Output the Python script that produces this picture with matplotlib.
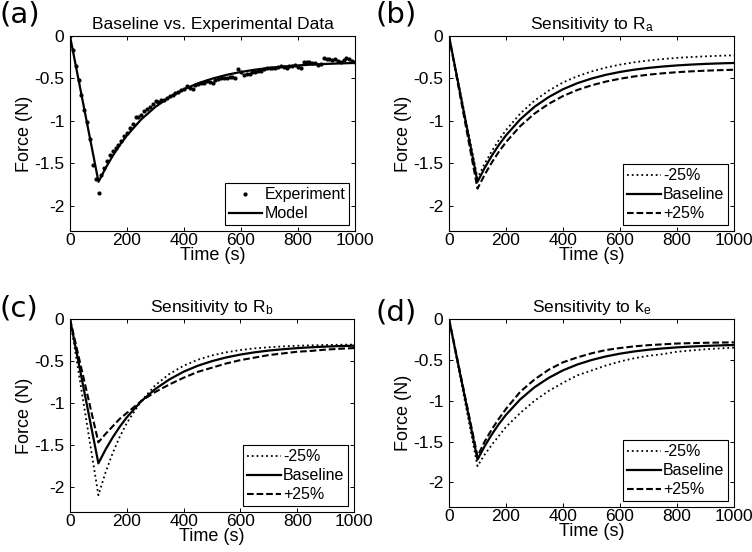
import matplotlib

matplotlib.use("Agg")

import matplotlib.pyplot as plt

plt.rcParams["font.family"] = ["Liberation Sans", "DejaVu Sans"]
plt.rcParams["mathtext.fontset"] = "custom"
plt.rcParams["mathtext.rm"] = "Liberation Sans"
plt.rcParams["mathtext.it"] = "Liberation Sans"
plt.rcParams["mathtext.default"] = "regular"

# model curves (time in s, force in N)
model_time = [0, 100, 125, 150, 175, 200, 250, 300, 350, 400, 450, 500,
              550, 600, 650, 700, 750, 800, 850, 900, 950, 1000]
baseline = [0, -1.72, -1.557, -1.413, -1.285, -1.172, -0.983, -0.835, -0.72, -0.628, -0.557, -0.502,
            -0.458, -0.424, -0.397, -0.376, -0.36, -0.347, -0.337, -0.329, -0.323, -0.318]

ra_minus = [0, -1.675, -1.507, -1.359, -1.227, -1.11, -0.915, -0.762, -0.644, -0.548, -0.475, -0.418,
            -0.373, -0.338, -0.31, -0.289, -0.272, -0.258, -0.248, -0.24, -0.233, -0.228]
ra_plus = [0, -1.80, -1.637, -1.493, -1.365, -1.252, -1.063, -0.915, -0.80, -0.708, -0.637, -0.582,
           -0.538, -0.504, -0.477, -0.456, -0.44, -0.427, -0.417, -0.409, -0.403, -0.398]

rb_minus = [0, -2.10, -1.83, -1.60, -1.405, -1.24, -0.98, -0.79, -0.655, -0.557, -0.485, -0.434,
            -0.397, -0.37, -0.35, -0.337, -0.326, -0.319, -0.314, -0.31, -0.307, -0.305]
rb_plus = [0, -1.47, -1.37, -1.28, -1.19, -1.12, -0.98, -0.87, -0.78, -0.70, -0.63, -0.58,
           -0.53, -0.49, -0.46, -0.43, -0.41, -0.39, -0.38, -0.365, -0.355, -0.346]

ke_minus = [0, -1.80, -1.66, -1.54, -1.43, -1.32, -1.15, -1.00, -0.88, -0.78, -0.69, -0.63,
            -0.57, -0.52, -0.48, -0.45, -0.43, -0.40, -0.385, -0.37, -0.36, -0.35]
ke_plus = [0, -1.68, -1.50, -1.35, -1.22, -1.10, -0.89, -0.74, -0.62, -0.53, -0.47, -0.42,
           -0.38, -0.355, -0.335, -0.32, -0.31, -0.30, -0.295, -0.291, -0.288, -0.286]

# experimental points, panel (a)
exp_time = [0, 10, 20, 30, 40, 50, 60, 70, 80, 90, 100, 110, 120, 130, 140, 150, 160, 170, 180, 190,
            200, 210, 220, 230, 240, 250, 260, 270, 280, 290, 300, 310, 320, 330, 340, 350, 360, 370,
            380, 390, 400, 410, 420, 430, 440, 450, 460, 470, 480, 490, 500, 510, 520, 530, 540, 550,
            560, 570, 580, 590, 600, 610, 620, 630, 640, 650, 660, 670, 680, 690, 700, 710, 720, 730,
            740, 750, 760, 770, 780, 790, 800, 810, 820, 830, 840, 850, 860, 870, 880, 890, 900, 910,
            920, 930, 940, 950, 960, 970, 980, 990, 1000]
exp_force = [0.0, -0.16, -0.35, -0.52, -0.69, -0.87, -1.02, -1.21, -1.52, -1.69, -1.85, -1.64, -1.56,
             -1.47, -1.40, -1.36, -1.32, -1.28, -1.24, -1.18, -1.14, -1.09, -1.04, -0.96, -0.95, -0.93,
             -0.88, -0.86, -0.84, -0.80, -0.77, -0.78, -0.76, -0.75, -0.73, -0.71, -0.70, -0.67, -0.66,
             -0.64, -0.62, -0.59, -0.61, -0.63, -0.58, -0.57, -0.56, -0.55, -0.53, -0.54, -0.55, -0.52,
             -0.51, -0.50, -0.50, -0.49, -0.48, -0.48, -0.49, -0.39, -0.43, -0.46, -0.45, -0.45, -0.43,
             -0.42, -0.41, -0.41, -0.39, -0.38, -0.38, -0.38, -0.38, -0.36, -0.35, -0.37, -0.38, -0.35,
             -0.35, -0.34, -0.36, -0.38, -0.31, -0.31, -0.31, -0.32, -0.32, -0.34, -0.33, -0.26, -0.27,
             -0.27, -0.28, -0.27, -0.30, -0.31, -0.28, -0.26, -0.27, -0.29, -0.31]

x_ticks = [0, 200, 400, 600, 800, 1000]
y_ticks = [-2, -1.5, -1, -0.5, 0]
y_ticklabels = ["-2", "-1.5", "-1", "-0.5", "0"]
variant_labels = ["-25%", "Baseline", "+25%"]

W, H = 752, 552
fig = plt.figure(figsize=(W / 100, H / 100), dpi=100)


def make_axes(left, top, right, bottom):
    return fig.add_axes([left / W, 1 - bottom / H, (right - left) / W, (bottom - top) / H])


def style_axes(ax, title):
    ax.set_xlim(0, 1000)
    ax.set_ylim(-2.3, 0)
    ax.set_xticks(x_ticks)
    ax.set_yticks(y_ticks)
    ax.set_yticklabels(y_ticklabels)
    ax.tick_params(direction="in", length=3, width=0.7, labelsize=12.5, top=True, right=True)
    ax.tick_params(axis="x", pad=1.5)
    ax.tick_params(axis="y", pad=4)
    for sp in ax.spines.values():
        sp.set_linewidth(0.8)
    ax.set_xlabel("Time (s)", fontsize=13, labelpad=-1)
    ax.set_ylabel("Force (N)", fontsize=13, labelpad=1)
    ax.set_title(title, fontsize=12.5, pad=5)


def legend(ax):
    leg = ax.legend(loc="lower right", fontsize=11.5, fancybox=False, framealpha=1, edgecolor="black",
                    handlelength=2.1, handletextpad=0.15, labelspacing=0.25, borderpad=0.25,
                    borderaxespad=0.35)
    leg.get_frame().set_linewidth(0.8)


def sensitivity(ax, minus, plus, title):
    ax.plot(model_time, minus, color="black", linestyle=":", linewidth=1.3, label=variant_labels[0])
    ax.plot(model_time, baseline, color="black", linestyle="-", linewidth=1.6, label=variant_labels[1])
    ax.plot(model_time, plus, color="black", linestyle="--", dashes=(3.2, 1.4), linewidth=1.5,
            label=variant_labels[2])
    style_axes(ax, title)
    legend(ax)


ax_a = make_axes(70, 36, 355, 231)
ax_a.plot(exp_time, exp_force, linestyle="none", marker=".", markersize=4, color="black", label="Experiment")
ax_a.plot(model_time, baseline, color="black", linewidth=1.6, label="Model")
style_axes(ax_a, "Baseline vs. Experimental Data")
legend(ax_a)

ax_b = make_axes(449, 36, 734, 231)
sensitivity(ax_b, ra_minus, ra_plus, "Sensitivity to R$_a$")

ax_c = make_axes(70, 319, 354, 512)
sensitivity(ax_c, rb_minus, rb_plus, "Sensitivity to R$_b$")

ax_d = make_axes(449, 319, 734, 507)
sensitivity(ax_d, ke_minus, ke_plus, "Sensitivity to k$_e$")

panel_letters = [("(a)", 0, 0), ("(b)", 376, 0), ("(c)", 0, 294), ("(d)", 376, 299)]
for letter, px, py in panel_letters:
    fig.text(px / W, 1 - py / H, letter, fontsize=21, family="DejaVu Sans", ha="left", va="top")

fig.savefig("out.png", dpi=100)
